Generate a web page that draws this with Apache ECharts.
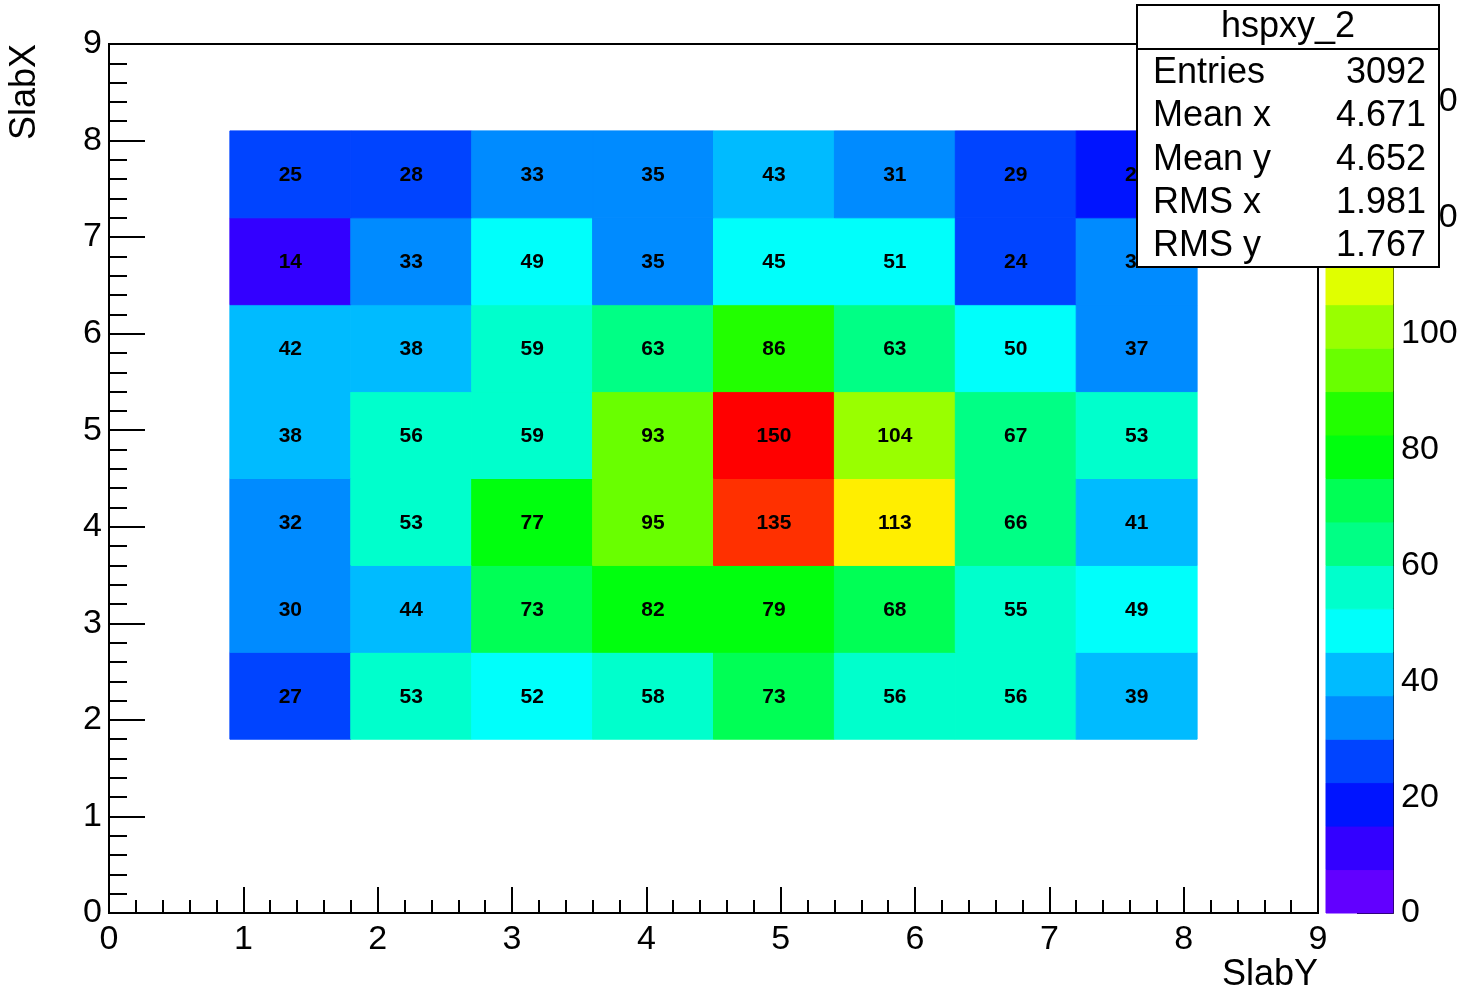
<!DOCTYPE html>
<html>
<head>
<meta charset="utf-8">
<script src="https://cdn.jsdelivr.net/npm/echarts@6/dist/echarts.min.js"></script>
<style>html,body{margin:0;padding:0;background:#fff}#c{width:1466px;height:992px}</style>
</head>
<body>
<div id="c"></div>
<script>
// ---- data ----
const xEdges = [0.9, 1.8, 2.7, 3.6, 4.5, 5.4, 6.3, 7.2, 8.1];   // SlabY bins
const yEdges = [1.8, 2.7, 3.6, 4.5, 5.4, 6.3, 7.2, 8.1];        // SlabX bins
// counts per row, bottom (SlabX bin 1) to top (SlabX bin 7)
const row1 = [27, 53, 52, 58, 73, 56, 56, 39];
const row2 = [30, 44, 73, 82, 79, 68, 55, 49];
const row3 = [32, 53, 77, 95, 135, 113, 66, 41];
const row4 = [38, 56, 59, 93, 150, 104, 67, 53];
const row5 = [42, 38, 59, 63, 86, 63, 50, 37];
const row6 = [14, 33, 49, 35, 45, 51, 24, 32];
const row7 = [25, 28, 33, 35, 43, 31, 29, 21];
const zMin = 0, zMax = 150, nContours = 20;
const paletteColors = ['#6200ff','#3300ff','#0014ff','#0044ff','#008bff','#00bbff','#00fffb','#00ffcc',
  '#00ff85','#00ff55','#00ff0e','#22ff00','#69ff00','#99ff00','#e0ff00','#ffee00','#ffa700','#ff7700','#ff3000','#ff0000'];
const xTicks = [0,1,2,3,4,5,6,7,8,9];
const zTicks = [0,20,40,60,80,100,120,140];
const statsTitle = 'hspxy_2';
const statsLabels = ['Entries', 'Mean x', 'Mean y', 'RMS x', 'RMS y'];
const statsValues = ['3092', '4.671', '4.652', '1.981', '1.767'];
const xTitle = 'SlabY', yTitle = 'SlabX';

// ---- build ----
const rows = [row1, row2, row3, row4, row5, row6, row7];
const cells = [];
rows.forEach((r, j) => r.forEach((v, i) => cells.push([i, j, v])));
const step = (zMax - zMin) / nContours;
function colorFor(v) {
  let k = Math.floor((v - zMin) / step);
  if (k < 0) k = 0;
  if (k >= nContours) k = nContours - 1;
  return paletteColors[k];
}
const bands = [];
for (let k = 0; k < nContours; k++) bands.push([k]);

const FONT = '"Liberation Sans", Arial, sans-serif';
const axisCommon = {
  axisLine: {onZero: false, lineStyle: {color: '#000', width: 2}},
  splitLine: {show: false}
};

const statsEls = [
  {type: 'rect', z: 100, shape: {x: 1137, y: 5, width: 302, height: 262}, style: {fill: '#fff', stroke: '#000', lineWidth: 2}},
  {type: 'line', z: 101, shape: {x1: 1137, y1: 49, x2: 1439, y2: 49}, style: {stroke: '#000', lineWidth: 2}},
  {type: 'text', z: 101, x: 1288, y: 27, style: {text: statsTitle, align: 'center', verticalAlign: 'middle', fill: '#000', font: '36px ' + FONT}}
].concat(statsLabels.map((t, i) => ({type: 'text', z: 101, x: 1153, y: 73 + 43.3 * i,
    style: {text: t, align: 'left', verticalAlign: 'middle', fill: '#000', font: '36px ' + FONT}})))
 .concat(statsValues.map((t, i) => ({type: 'text', z: 101, x: 1426, y: 73 + 43.3 * i,
    style: {text: t, align: 'right', verticalAlign: 'middle', fill: '#000', font: '36px ' + FONT}})));

const chart = echarts.init(document.getElementById('c'), null, {renderer: 'canvas'});
chart.setOption({
  animation: false,
  backgroundColor: '#fff',
  grid: [
    {left: 109, top: 44, width: 1209, height: 869, show: true, borderColor: '#000', borderWidth: 2, backgroundColor: 'transparent'},
    {left: 1326, top: 44, width: 67, height: 869}
  ],
  xAxis: [
    Object.assign({}, axisCommon, {
      gridIndex: 0, type: 'value', min: xTicks[0], max: xTicks[xTicks.length - 1], interval: 1,
      axisTick: {inside: true, length: 26, lineStyle: {color: '#000', width: 2}},
      minorTick: {show: true, splitNumber: 5, length: 13, lineStyle: {color: '#000', width: 2}},
      axisLabel: {color: '#000', fontSize: 34, fontFamily: FONT, margin: 10}
    }),
    {gridIndex: 1, type: 'value', min: 0, max: 1, show: false}
  ],
  yAxis: [
    Object.assign({}, axisCommon, {
      gridIndex: 0, type: 'value', min: xTicks[0], max: xTicks[xTicks.length - 1], interval: 1,
      axisTick: {inside: true, length: 36, lineStyle: {color: '#000', width: 2}},
      minorTick: {show: true, splitNumber: 5, length: 18, lineStyle: {color: '#000', width: 2}},
      axisLabel: {color: '#000', fontSize: 34, fontFamily: FONT, margin: 7, padding: [5, 0, 0, 0]}
    }),
    Object.assign({}, axisCommon, {
      gridIndex: 1, type: 'value', min: zMin, max: zMax, interval: 20, position: 'right',
      axisTick: {inside: true, length: 36, lineStyle: {color: '#000', width: 2}},
      axisLabel: {color: '#000', fontSize: 34, fontFamily: FONT, margin: 8, padding: [5, 0, 0, 0], showMaxLabel: false,
        formatter: v => (zTicks.indexOf(v) >= 0 ? String(v) : '')}
    })
  ],
  series: [
    {
      type: 'custom', xAxisIndex: 0, yAxisIndex: 0, data: cells, z: 2,
      renderItem: function (params, api) {
        const i = api.value(0), j = api.value(1), v = api.value(2);
        const p0 = api.coord([xEdges[i], yEdges[j + 1]]);
        const p1 = api.coord([xEdges[i + 1], yEdges[j]]);
        const c = colorFor(v);
        return {type: 'group', children: [
          {type: 'rect', shape: {x: p0[0], y: p0[1], width: p1[0] - p0[0], height: p1[1] - p0[1]},
           style: {fill: c, stroke: c, lineWidth: 1}},
          {type: 'text', x: (p0[0] + p1[0]) / 2, y: (p0[1] + p1[1]) / 2 + 1,
           style: {text: String(v), align: 'center', verticalAlign: 'middle', fill: '#000',
                   font: 'bold 21px "Liberation Sans", Arial, sans-serif'}}
        ]};
      }
    },
    {
      type: 'custom', xAxisIndex: 1, yAxisIndex: 1, data: bands, z: 1,
      renderItem: function (params, api) {
        const k = api.value(0);
        const p0 = api.coord([0, zMin + (k + 1) * step]);
        const p1 = api.coord([1, zMin + k * step]);
        const c = paletteColors[k];
        return {type: 'rect', shape: {x: p0[0], y: p0[1], width: p1[0] - p0[0], height: p1[1] - p0[1]},
                style: {fill: c, stroke: c, lineWidth: 1}};
      }
    }
  ],
  graphic: {
    zlevel: 1,
    elements: [
      {type: 'text', x: 1318, y: 975, z: 50,
       style: {text: xTitle, align: 'right', verticalAlign: 'middle', fill: '#000', font: '36px ' + FONT}},
      {type: 'text', x: 25, y: 44, rotation: Math.PI / 2, z: 50,
       style: {text: yTitle, align: 'right', verticalAlign: 'middle', fill: '#000', font: '36px ' + FONT}}
    ].concat(statsEls)
  }
});
</script>
</body>
</html>
